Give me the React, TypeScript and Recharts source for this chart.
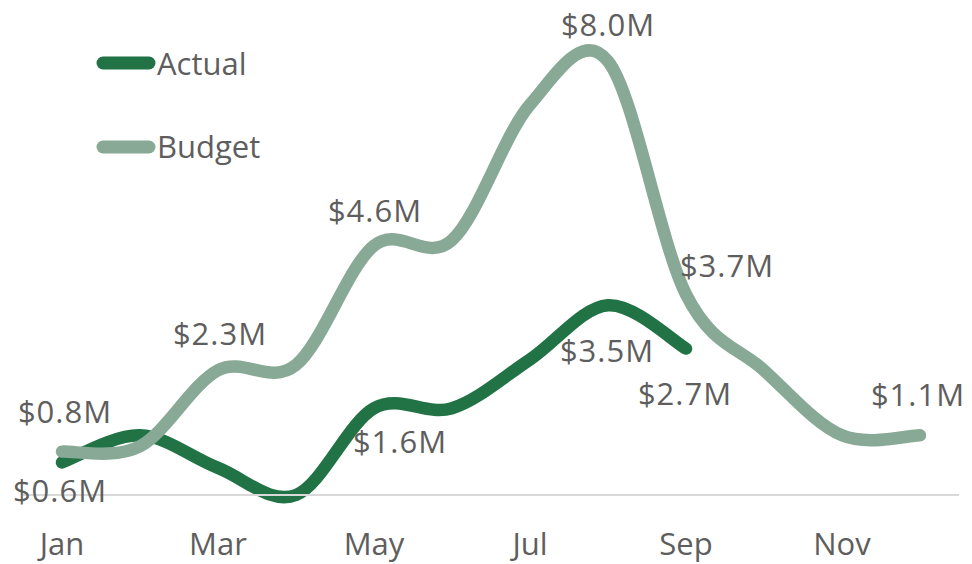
import React from 'react';
import { LineChart, Line, XAxis, YAxis, Legend, LabelList } from 'recharts';

// monthly figures in $M
const months = ['Jan', 'Feb', 'Mar', 'Apr', 'May', 'Jun', 'Jul', 'Aug', 'Sep', 'Oct', 'Nov', 'Dec'];
const actual = [0.6, 1.1, 0.5, 0.0, 1.6, 1.6, 2.5, 3.5, 2.7, null, null, null];
const budget = [0.8, 0.9, 2.3, 2.4, 4.6, 4.7, 7.2, 8.0, 3.7, 2.3, 1.1, 1.1];

const DARK = '#217346';
const LIGHT = '#88a995';
const TEXT = '#5e5e5e';
const FONT = '"Open Sans", sans-serif';

const data = months.map((m, i) => ({ month: m, Actual: actual[i], Budget: budget[i] }));

// which points carry a value label, and where the text sits relative to the point
const actualLabelSpots: Record<number, [number, number]> = {
  0: [-2, 40],
  4: [26, 45],
  7: [-1, 57],
  8: [-1, 56],
};
const budgetLabelSpots: Record<number, [number, number]> = {
  0: [3, -29],
  2: [2, -25],
  4: [1, -24],
  7: [0, -25],
  8: [41, -17],
  11: [-2, -29],
};

// Excel-like smoothing: Catmull-Rom through every point
const excelSmooth = (context: any) => {
  let pts: number[][] = [];
  return {
    areaStart() {},
    areaEnd() {},
    lineStart() {
      pts = [];
    },
    lineEnd() {
      const n = pts.length;
      if (!n) return;
      context.moveTo(pts[0][0], pts[0][1]);
      for (let i = 0; i < n - 1; i++) {
        const p0 = pts[i - 1] || pts[i];
        const p1 = pts[i];
        const p2 = pts[i + 1];
        const p3 = pts[i + 2] || p2;
        context.bezierCurveTo(
          p1[0] + (p2[0] - p0[0]) / 6,
          p1[1] + (p2[1] - p0[1]) / 6,
          p2[0] - (p3[0] - p1[0]) / 6,
          p2[1] - (p3[1] - p1[1]) / 6,
          p2[0],
          p2[1]
        );
      }
    },
    point(x: number, y: number) {
      pts.push([+x, +y]);
    },
  };
};

const makeLabel = (spots: Record<number, [number, number]>) => (props: any) => {
  const { index, value } = props;
  const spot = spots[index];
  if (!spot || value == null) return null;
  const vb = props.viewBox || {};
  const x = vb.x ?? props.x;
  const y = vb.y ?? props.y;
  return (
    <text
      x={x + spot[0]}
      y={y + spot[1]}
      textAnchor="middle"
      fill={TEXT}
      fontSize={31}
      letterSpacing={1}
      fontFamily={FONT}
    >
      {`$${Number(value).toFixed(1)}M`}
    </text>
  );
};

const MonthTick = ({ x, y, payload }: any) => (
  <text x={x} y={y + 60} textAnchor="middle" fill={TEXT} fontSize={31} fontFamily={FONT}>
    {payload.value}
  </text>
);

const renderLegend = ({ payload }: any) => (
  <svg width={320} height={180}>
    {(payload || []).map((entry: any, i: number) => (
      <g key={entry.value}>
        <line
          x1={103}
          y1={63 + i * 84}
          x2={149}
          y2={63 + i * 84}
          stroke={entry.color}
          strokeWidth={13}
          strokeLinecap="round"
        />
        <text x={157} y={75 + i * 83} fill={TEXT} fontSize={31} fontFamily={FONT}>
          {entry.value}
        </text>
      </g>
    ))}
  </svg>
);

export default function App() {
  return (
    <div style={{ position: 'absolute', left: 0, top: 0, background: '#fff' }}>
      <LineChart width={972} height={564} data={data} margin={{ top: 7, right: 13, bottom: 0, left: 23 }}>
        <XAxis
          dataKey="month"
          height={69}
          interval={1}
          padding={{ left: 39, right: 39 }}
          tickLine={false}
          tickSize={0}
          tickMargin={0}
          axisLine={{ stroke: '#d9d9d9', strokeWidth: 2 }}
          tick={<MonthTick />}
        />
        <YAxis hide domain={[0, 9]} />
        <Legend
          layout="vertical"
          align="center"
          verticalAlign="middle"
          wrapperStyle={{ left: 0, top: 0, width: 320, height: 180 }}
          content={renderLegend}
        />
        <Line
          dataKey="Actual"
          type={excelSmooth as any}
          stroke={DARK}
          strokeWidth={12.5}
          strokeLinecap="round"
          strokeLinejoin="round"
          dot={false}
          activeDot={false}
          isAnimationActive={false}
        >
          <LabelList dataKey="Actual" content={makeLabel(actualLabelSpots)} />
        </Line>
        <Line
          dataKey="Budget"
          type={excelSmooth as any}
          stroke={LIGHT}
          strokeWidth={12.5}
          strokeLinecap="round"
          strokeLinejoin="round"
          dot={false}
          activeDot={false}
          isAnimationActive={false}
        >
          <LabelList dataKey="Budget" content={makeLabel(budgetLabelSpots)} />
        </Line>
      </LineChart>
    </div>
  );
}
